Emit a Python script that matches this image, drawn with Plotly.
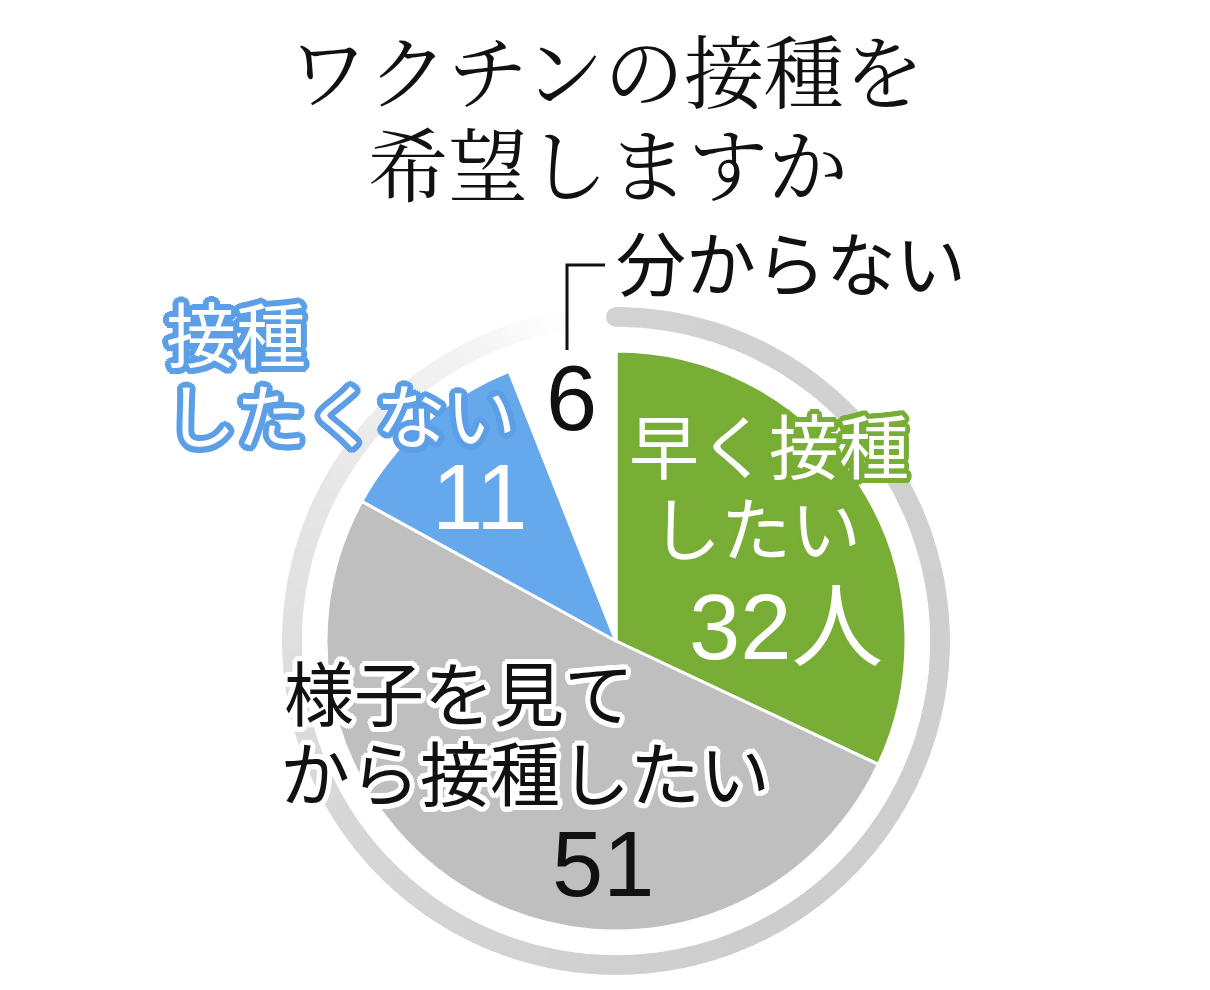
import math
import numpy as np
import plotly.graph_objects as go

# survey answers (people)
labels = ["早く接種したい", "様子を見てから接種したい", "接種したくない", "分からない"]
values = [32, 51, 11, 6]
colors = ["#78ad36", "#bfbfbf", "#66a8ec", "#ffffff"]
title_lines = ["ワクチンの接種を", "希望しますか"]

W, H = 1210, 990
OFF = 8  # page body margin
cx, cy, r = 616, 641, 290

jp = "Noto Sans CJK JP"
num = "Liberation Sans, Arial"
serif = "Noto Serif CJK JP, Noto Sans CJK JP"


def outline(col, w):
    # fake a text stroke with a ring of css shadows
    parts = []
    for rad in (w, w * 0.6):
        for k in range(16):
            a = 2 * math.pi * k / 16
            parts.append(f"{rad*math.cos(a):.1f}px {rad*math.sin(a):.1f}px 0 {col}")
    return ", ".join(parts)


fig = go.Figure()

# grey ring around the pie, fading out towards the top-left
theta = np.linspace(0, 350, 500)
R = 324
fig.add_trace(go.Scatter(
    x=cx + R * np.sin(np.radians(theta)),
    y=cy - R * np.cos(np.radians(theta)),
    mode="markers",
    marker=dict(size=20, color=theta, cmin=0, cmax=350, showscale=False,
                colorscale=[[0, "#d2d2d2"], [0.45, "#cdcdcd"], [0.7, "#d8d8d8"],
                            [0.85, "#e6e6e6"], [0.95, "#f3f3f3"], [1, "#fdfdfd"]]),
    hoverinfo="skip", showlegend=False,
))

px_c, py_c = cx - OFF, cy - OFF
fig.add_trace(go.Pie(
    labels=labels, values=values, sort=False, direction="clockwise", rotation=0,
    marker=dict(colors=colors, line=dict(color="white", width=3)),
    textinfo="none", hoverinfo="none", showlegend=False,
    domain=dict(x=[(px_c - r) / W, (px_c + r) / W], y=[1 - (py_c + r) / H, 1 - (py_c - r) / H]),
))

ann = []


def add(txt, x, y, size, color, family=jp, xanchor="center", shadow=None):
    f = dict(family=family, size=size, color=color)
    if shadow:
        f["shadow"] = shadow
    ann.append(dict(text=txt, x=x, y=y, xref="x", yref="y", xanchor=xanchor,
                    yanchor="middle", showarrow=False, font=f))


# title
add(title_lines[0], 606, 67, 80, "#111111", family=serif)
add(title_lines[1], 608, 160, 80, "#111111", family=serif)

# 早く接種したい
g_out = outline(colors[0], 5)
add("早く接種", 769, 443, 70, "white", shadow=g_out)
add("したい", 756, 525, 70, "white", shadow=g_out)
add(f"{values[0]}<span style='font-family:Noto Sans CJK JP'>人</span>", 786, 618, 92, "white",
    family=num, shadow=g_out)

# 様子を見てから接種したい
w_out = outline("white", 5)
add("様子を見て", 282, 690, 70, "#111111", xanchor="left", shadow=w_out)
add("から接種したい", 278, 770, 70, "#111111", xanchor="left", shadow=w_out)
add(str(values[1]), 603, 864, 92, "#111111", family=num)

# 接種したくない
b_out = outline("#5c9fe6", 6)
add("接種", 164, 331, 70, "white", xanchor="left", shadow=b_out)
add("したくない", 164, 412, 70, "white", xanchor="left", shadow=b_out)
add(str(values[2]), 480, 497, 92, "white", family=num)

# 分からない
add("分からない", 614, 260, 70, "#111111", xanchor="left")
add(str(values[3]), 571, 398, 92, "#111111", family=num)

fig.update_layout(
    width=W, height=H, margin=dict(l=0, r=0, t=0, b=0),
    paper_bgcolor="white", plot_bgcolor="white",
    xaxis=dict(range=[OFF, W + OFF], visible=False, fixedrange=True),
    yaxis=dict(range=[H + OFF, OFF], visible=False, fixedrange=True),
    annotations=ann,
    shapes=[dict(type="path", xref="x", yref="y", path="M 605 265 L 567 265 L 567 350",
                 line=dict(color="#111111", width=3))],
)

fig.write_html("out.html", config={"displayModeBar": False})
